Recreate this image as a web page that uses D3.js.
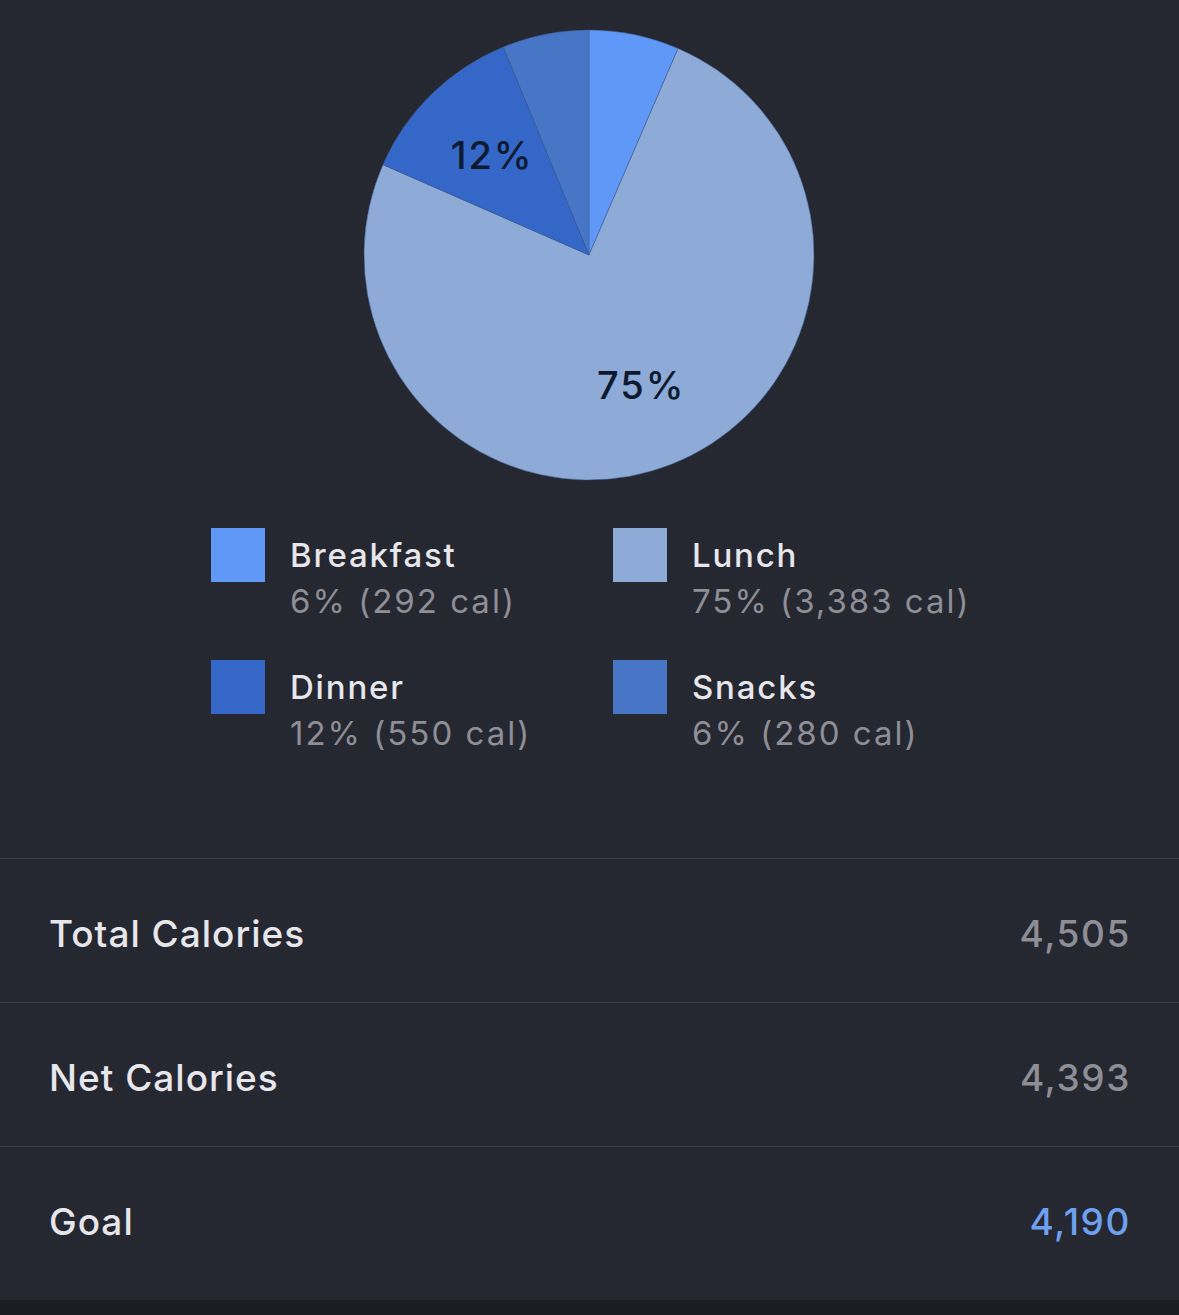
<!DOCTYPE html>
<html>
<head>
<meta charset="utf-8">
<script src="https://cdn.jsdelivr.net/npm/d3@7"></script>
<style>
  html, body { margin: 0; padding: 0; background: #252731; }
  svg { display: block; }
  text { font-family: Inter, "Noto Sans", sans-serif; }
</style>
</head>
<body>
<div id="chart"></div>
<script>
// meals and calories
const meals = ["Breakfast", "Lunch", "Dinner", "Snacks"];
const calories = [292, 3383, 550, 280];
const mealColors = ["#5f98f7", "#8eaad7", "#3567c9", "#4776c6"];

// summary rows
const rowLabels = ["Total Calories", "Net Calories", "Goal"];
const rowValues = [4505, 4393, 4190];
const rowValueColors = ["#8e8e96", "#8e8e96", "#6ea0ef"];

const W = 1179, H = 1315;
const cx = 589, cy = 255, radius = 225, labelRadius = 140;

const total = d3.sum(calories);
const fmt = d3.format(",");
const pct = function(v) { return Math.round(v / total * 100) + "%"; };

const data = meals.map(function(m, i) {
  return {name: m, value: calories[i], color: mealColors[i]};
});

const svg = d3.select("#chart").append("svg")
  .attr("width", W)
  .attr("height", H);

svg.append("rect")
  .attr("width", W)
  .attr("height", H)
  .attr("fill", "#252731");

// bottom bar
svg.append("rect")
  .attr("y", 1300)
  .attr("width", W)
  .attr("height", H - 1300)
  .attr("fill", "#1b1c24");

const pie = d3.pie()
  .sort(null)
  .value(function(d) { return d.value; });

const arc = d3.arc().innerRadius(0).outerRadius(radius);
const labelArc = d3.arc().innerRadius(labelRadius).outerRadius(labelRadius);

const g = svg.append("g")
  .attr("transform", "translate(" + cx + "," + cy + ")");

const arcs = pie(data);

g.selectAll("path")
  .data(arcs)
  .join("path")
    .attr("d", arc)
    .attr("fill", function(d) { return d.data.color; })
    .attr("stroke", "#3d5a8c")
    .attr("stroke-width", 0.5);

// only the bigger slices get a label
g.selectAll(".slice-label")
  .data(arcs.filter(function(d) { return d.data.value / total >= 0.1; }))
  .join("text")
    .attr("class", "slice-label")
    .attr("transform", function(d) {
      let c = labelArc.centroid(d);
      return "translate(" + (c[0] + 1) + "," + c[1] + ")";
    })
    .attr("text-anchor", "middle")
    .attr("dy", "0.36em")
    .attr("fill", "#0e1a2f")
    .style("font-size", "38px")
    .style("font-weight", 500)
    .style("letter-spacing", "2px")
    .text(function(d) { return pct(d.data.value); });

// legend, 2 columns
const legend = svg.selectAll(".legend")
  .data(data)
  .join("g")
    .attr("class", "legend")
    .attr("transform", function(d, i) {
      return "translate(" + (211 + (i % 2) * 402) + "," + (528 + Math.floor(i / 2) * 132) + ")";
    });

legend.append("rect")
  .attr("width", 54)
  .attr("height", 54)
  .attr("fill", function(d) { return d.color; });

legend.append("text")
  .attr("x", 79)
  .attr("y", 39)
  .attr("fill", "#e6e6eb")
  .style("font-size", "33px")
  .style("font-weight", 500)
  .style("letter-spacing", "1.8px")
  .text(function(d) { return d.name; });

legend.append("text")
  .attr("x", 79)
  .attr("y", 85)
  .attr("fill", "#8e8e96")
  .style("font-size", "33px")
  .style("letter-spacing", "2px")
  .text(function(d) { return pct(d.value) + " (" + fmt(d.value) + " cal)"; });

// summary rows
const rowY = d3.scaleBand()
  .domain(rowLabels)
  .range([858, 1290]);

svg.selectAll(".divider")
  .data(rowLabels)
  .join("line")
    .attr("class", "divider")
    .attr("x1", 0)
    .attr("x2", W)
    .attr("y1", function(d) { return rowY(d) + 0.5; })
    .attr("y2", function(d) { return rowY(d) + 0.5; })
    .attr("stroke", "#3a3c47")
    .attr("stroke-width", 1);

svg.selectAll(".row-label")
  .data(rowLabels)
  .join("text")
    .attr("class", "row-label")
    .attr("x", 49)
    .attr("y", function(d) { return rowY(d) + 89; })
    .attr("fill", "#e6e6eb")
    .style("font-size", "37px")
    .style("font-weight", 500)
    .style("letter-spacing", "1px")
    .text(function(d) { return d; });

svg.selectAll(".row-value")
  .data(rowValues)
  .join("text")
    .attr("class", "row-value")
    .attr("x", 1131)
    .attr("y", function(d, i) { return rowY(rowLabels[i]) + 89; })
    .attr("text-anchor", "end")
    .attr("fill", function(d, i) { return rowValueColors[i]; })
    .style("font-size", "37px")
    .style("font-weight", 500)
    .style("letter-spacing", "1.6px")
    .text(function(d) { return fmt(d); });
</script>
</body>
</html>
